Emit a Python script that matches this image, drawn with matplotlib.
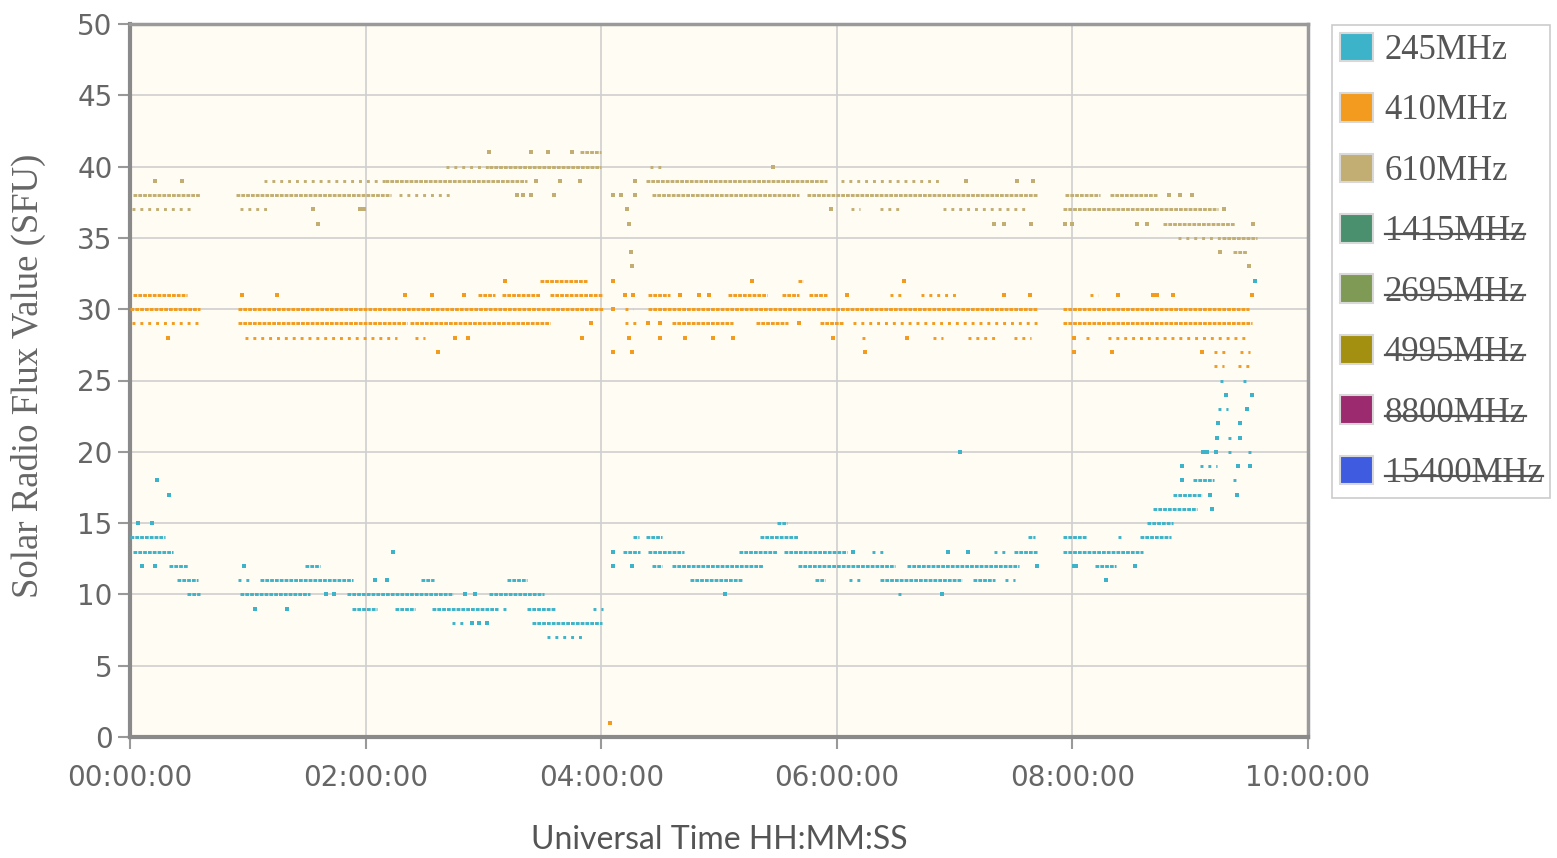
import matplotlib
matplotlib.use("Agg")
import matplotlib.pyplot as plt
from matplotlib.patches import Patch
from matplotlib.lines import Line2D

# ---------------- data (minutes after 00:00 UT, SFU) ----------------
series_names = ["245MHz", "410MHz", "610MHz", "1415MHz", "2695MHz", "4995MHz", "8800MHz", "15400MHz"]
series_hidden = [False, False, False, True, True, True, True, True]
series_colors = ["#3db3c9", "#f29b1e", "#c2ae72", "#4a8f6e", "#7f9a55", "#a39010", "#9b2a6e", "#3f5ce0"]

# 245 MHz: dense runs (t_start, t_end, value), sparse runs, single points (t, value)
f245_dense = [
    (0, 18, 14), (256, 259, 14), (263, 271, 14), (321, 340, 14), (457.5, 461, 14), (475, 487.5, 14), (514.5, 530, 14),
    (1.5, 22, 13), (251, 260, 13), (264, 282, 13), (310, 329.6, 13), (333, 365, 13), (450, 462.6, 13), (475, 516, 13),
    (20, 29.5, 12), (89, 97, 12), (266, 271, 12), (276, 322.5, 12), (340, 389.7, 12), (396, 453, 12), (491.6, 502, 12),
    (24, 34.6, 11), (66, 113.6, 11), (148, 155, 11), (192, 202, 11), (285, 311.7, 11), (349, 354, 11), (382, 424, 11),
    (429.5, 440.6, 11),
    (29, 35.7, 10), (56, 91.7, 10), (110.5, 164.5, 10), (183, 211, 10),
    (113, 125.8, 9), (135, 145, 9), (154, 187.5, 9), (202, 216.5, 9),
    (205, 240.5, 8),
    (329.6, 334.7, 15), (518, 531, 15), (521, 543.5, 16), (531, 546, 17), (541.5, 552, 18),
]
f245_sparse = [
    (503, 506, 14), (378, 383.6, 13), (440, 446, 13), (55, 62, 11), (366, 373.4, 11), (445.7, 451, 11),
    (391, 393, 10), (190, 192.6, 9), (236, 241, 9), (164, 169.6, 8), (212.4, 230.8, 7),
    (562, 564.5, 18), (545, 553.7, 19), (559, 562, 20), (569.5, 571.6, 20), (559, 562, 21),
    (554, 559, 23), (555, 558, 25), (567, 570, 25),
]
f245_points_t = [14, 20, 4, 11, 134, 246, 368, 416.7, 427, 6, 12.7, 58, 246, 255.7, 462, 481, 482, 512,
                 125, 131, 497, 100, 104, 170.6, 175.7, 303, 413.6, 63.7, 80, 174, 178, 182,
                 423, 546.6, 548.5, 553, 551, 550, 564, 536, 536, 564.5, 570.6, 553.7, 565.5, 554, 565.5,
                 569, 558, 571.6, 573]
f245_points_v = [18, 17, 15, 15, 13, 13, 13, 13, 13, 12, 12, 12, 12, 12, 12, 12, 12, 12,
                 11, 11, 11, 10, 10, 10, 10, 10, 10, 9, 9, 8, 8, 8,
                 20, 20, 20, 20, 16, 17, 17, 18, 19, 19, 19, 21, 21, 22, 22,
                 23, 24, 24, 32]

# 410 MHz
f410_dense = [
    (209, 233, 32), (340, 343, 32),
    (1.5, 29, 31), (177, 186, 31), (189.5, 209, 31), (214, 241, 31), (264, 275, 31), (304.6, 324.5, 31),
    (332, 341, 31), (346, 355, 31),
    (0, 35.7, 30), (55, 241, 30), (264, 462, 30), (475, 570, 30),
    (55, 141, 29), (142.6, 214, 29), (276, 307, 29), (319, 335, 29), (351.5, 363, 29), (475, 571.6, 29),
]
f410_sparse = [
    (387, 393, 31), (403, 422, 31), (489, 493, 31), (252, 256, 30),
    (1, 34.6, 29), (252, 259, 29), (368, 462, 29),
    (58.6, 136, 28), (145, 150, 28), (373, 375, 28), (409, 414, 28), (427, 441.6, 28), (450, 459, 28),
    (487, 490, 28), (498, 570, 28),
    (552, 559, 27), (565.5, 570.6, 27), (552, 557, 26), (564.5, 572, 26),
]
f410_points_t = [191, 246, 317, 394, 57, 75, 140, 154, 170, 252, 256, 280, 290, 295, 365, 445, 458.5,
                 503, 521, 523, 531, 571.6, 246, 235, 264, 270, 341,
                 19.4, 165.6, 172, 230, 254, 270, 282.7, 297, 307, 358, 396, 481,
                 157, 246, 255.6, 374.5, 481, 500, 546, 244.5]
f410_points_v = [32, 32, 32, 32, 31, 31, 31, 31, 31, 31, 31, 31, 31, 31, 31, 31, 31,
                 31, 31, 31, 31, 31, 30, 29, 29, 29, 29,
                 28, 28, 28, 28, 28, 28, 28, 28, 28, 28, 28, 28,
                 27, 27, 27, 27, 27, 27, 27, 1]

# 610 MHz
f610_dense = [
    (229, 240, 41), (183, 240, 40), (130, 202, 39), (263, 355, 39),
    (1.5, 35.7, 38), (54, 133, 38), (266, 341, 38), (345, 462, 38), (476, 494, 38), (499, 523, 38),
    (475, 554, 37), (526, 563, 36), (556, 574, 35), (562, 569, 34),
]
f610_sparse = [
    (161, 183, 40), (68, 130, 39), (362, 413, 39), (137, 165, 38),
    (1, 33, 37), (56, 70, 37), (367, 372, 37), (382, 392, 37), (414, 457, 37),
    (534, 556, 35), (265, 272, 40),
]
f610_points_t = [183, 204, 213, 225, 327.5, 12.7, 26.5, 207, 219, 229, 257, 426, 452, 460,
                 197, 200, 204, 216, 246, 250, 257, 529, 535, 541,
                 93, 117, 119, 253, 357, 557,
                 96, 254, 440, 445, 459, 476, 480, 513, 518, 572, 255, 555, 255.6, 570]
f610_points_v = [41, 41, 41, 41, 40, 39, 39, 39, 39, 39, 39, 39, 39, 39,
                 38, 38, 38, 38, 38, 38, 38, 38, 38, 38,
                 37, 37, 37, 37, 37, 37,
                 36, 36, 36, 36, 36, 36, 36, 36, 36, 36, 34, 34, 33, 33]

x_tick_minutes = [0, 120, 240, 360, 480, 600]
x_tick_labels = ["00:00:00", "02:00:00", "04:00:00", "06:00:00", "08:00:00", "10:00:00"]
y_ticks = list(range(0, 51, 5))

# ---------------- figure ----------------
W, H = 1557, 858
fig = plt.figure(figsize=(W / 100, H / 100), dpi=100)
fig.patch.set_facecolor("white")
ax = fig.add_axes([130 / W, 1 - 737 / H, 1178 / W, 713 / H])
ax.set_facecolor("#fffcf4")

LW = 2.1
def draw(dense, sparse, pts_t, pts_v, color):
    for t0, t1, v in dense:
        ax.hlines(v, t0, t1, colors=color, lw=LW, linestyles=(0, (1.3, 0.35)), zorder=3)
    for t0, t1, v in sparse:
        ax.hlines(v, t0, t1, colors=color, lw=LW, linestyles=(0, (1, 1.7)), zorder=3)
    ax.scatter(pts_t, pts_v, s=5.5, marker="s", color=color, linewidths=0, zorder=3)

draw(f610_dense, f610_sparse, f610_points_t, f610_points_v, series_colors[2])
draw(f410_dense, f410_sparse, f410_points_t, f410_points_v, series_colors[1])
draw(f245_dense, f245_sparse, f245_points_t, f245_points_v, series_colors[0])

ax.set_xlim(0, 600)
ax.set_ylim(0, 50)
ax.set_xticks(x_tick_minutes)
ax.set_xticklabels(x_tick_labels)
ax.set_yticks(y_ticks)
ax.grid(True, color="#cfcfcf", lw=1.2, zorder=0)
ax.set_axisbelow(True)
for side in ["left", "bottom"]:
    ax.spines[side].set_color("#8a8a8a")
    ax.spines[side].set_linewidth(3)
for side in ["top", "right"]:
    ax.spines[side].set_color("#9a9a9a")
    ax.spines[side].set_linewidth(2.5)
ax.tick_params(axis="both", length=8.5, width=1.5, color="#999999", labelcolor="#666666",
               labelsize=20)
ax.tick_params(axis="x", pad=11)
ax.tick_params(axis="y", pad=4)

fig.text(719 / W, 1 - 840 / H, "Universal Time HH:MM:SS", ha="center", va="center",
         fontsize=23, color="#555555", family=["Lato", "DejaVu Sans"])
fig.text(28 / W, 1 - 376 / H, "Solar Radio Flux Value (SFU)", ha="center", va="center",
         rotation=90, fontsize=26.5, color="#666666", family=["Liberation Serif", "DejaVu Serif"])

handles = [Patch(facecolor=c, edgecolor="#d8d8d8", lw=1.5) for c in series_colors]
leg = fig.legend(handles, series_names, loc="upper left", bbox_to_anchor=(1332 / W, 1 - 25 / H),
                 bbox_transform=fig.transFigure, borderaxespad=0, fancybox=False,
                 edgecolor="#cccccc", framealpha=1, handlelength=0.95, handleheight=0.9,
                 handletextpad=0.35, labelspacing=0.75, borderpad=0.22,
                 prop={"family": ["Liberation Serif", "DejaVu Serif"], "size": 25})
leg.get_frame().set_linewidth(1.2)
for t in leg.get_texts():
    t.set_color("#555555")

fig.canvas.draw()
r = fig.canvas.get_renderer()
inv = fig.transFigure.inverted()
for t, hid in zip(leg.get_texts(), series_hidden):
    if hid:
        bb = t.get_window_extent(r)
        ym = bb.y0 + bb.height * 0.42
        (x0, y0) = inv.transform((bb.x0, ym))
        (x1, _) = inv.transform((bb.x1, ym))
        fig.add_artist(Line2D([x0, x1], [y0, y0], transform=fig.transFigure, color="#555555",
                              lw=1.6, zorder=20))

fig.savefig("out.png", dpi=100)
